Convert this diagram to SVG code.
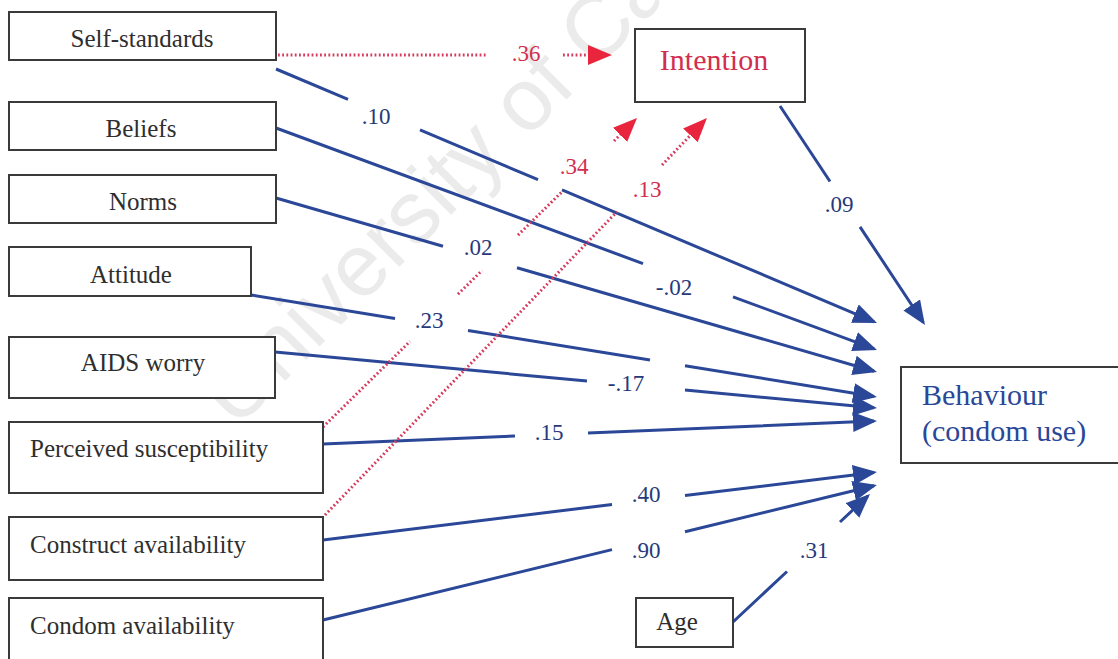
<svg xmlns="http://www.w3.org/2000/svg" width="1118" height="659" viewBox="0 0 1118 659">
  <style>
    .box { fill: #ffffff; stroke: #3a3a3a; stroke-width: 2; }
    .lbl { font-family: "Liberation Serif", "Times New Roman", serif; font-size: 25px; fill: #2e2e2e; }
    .blue { fill: none; stroke: #2b4797; stroke-width: 3; }
    .red { fill: none; stroke: #d63a5c; stroke-width: 3; stroke-dasharray: 1.8 2.4; }
    .num { font-family: "Liberation Serif", "Times New Roman", serif; font-size: 23px; fill: #27397a; text-anchor: middle; }
    .rnum { font-family: "Liberation Serif", "Times New Roman", serif; font-size: 23px; fill: #d22f4f; text-anchor: middle; }
    .wm { font-family: "Liberation Sans", Arial, sans-serif; font-size: 88px; fill: #ebebeb; }
  </style>
  <defs>
    <marker id="ahBlue" markerUnits="userSpaceOnUse" markerWidth="26" markerHeight="22" refX="21" refY="10" orient="auto">
      <path d="M0,0 L24,10 L0,20 z" fill="#2b4797"/>
    </marker>
    <marker id="ahRed" markerUnits="userSpaceOnUse" markerWidth="26" markerHeight="22" refX="21" refY="10" orient="auto">
      <path d="M0,0 L24,10 L0,20 z" fill="#e8253d"/>
    </marker>
  </defs>

  <rect x="0" y="0" width="1118" height="659" fill="#ffffff"/>

  <!-- faint background watermark -->
  <text class="wm" transform="translate(236,430) rotate(-45)">University of Cape Town</text>

  <!-- path connectors (gaps leave room for the coefficients) -->
  <g id="connectors">
    <!-- solid paths to behaviour -->
    <path class="blue" marker-end="url(#ahBlue)" d="M276,69 L348,99.4 M420,129.9 L538,179.7 M562,189.9 L874.2,321.8"/>
    <path class="blue" marker-end="url(#ahBlue)" d="M276,128 L643,263.6 M733,296.8 L874.2,348.9"/>
    <path class="blue" marker-end="url(#ahBlue)" d="M276,198 L443,246.3 M517,267.8 L874.1,371.2"/>
    <path class="blue" marker-end="url(#ahBlue)" d="M251,295 L395,318.5 M468,330.4 L650,360 M685,365.7 L874,396.5"/>
    <path class="blue" marker-end="url(#ahBlue)" d="M275,352 L587,381 M685,390.1 L874,407.7"/>
    <path class="blue" marker-end="url(#ahBlue)" d="M323,444 L515,436 M588,433 L874,421.1"/>
    <path class="blue" marker-end="url(#ahBlue)" d="M323,540 L612,504.5 M685,495.6 L874,472.4"/>
    <path class="blue" marker-end="url(#ahBlue)" d="M323,620 L612,549.6 M685,531.8 L874,485.7"/>
    <path class="blue" marker-end="url(#ahBlue)" d="M733,622 L787,571.5 M840,522 L867.8,496"/>
    <path class="blue" marker-end="url(#ahBlue)" d="M780,106 L830,181.5 M860,226.8 L923.3,322.5"/>
    <!-- dotted paths to intention -->
    <path class="red" marker-end="url(#ahRed)" d="M278,55 L488,55 M563,55 L609,55"/>
    <path class="red" marker-end="url(#ahRed)" d="M323,427 L410,341.4 M458,294.2 L482,270.5 M518,235.1 L562,191.8 M614,141 L634.9,120.1"/>
    <path class="red" marker-end="url(#ahRed)" d="M325,515 L617,211.6 M662,165 L704.9,120.2"/>
  </g>

  <!-- coefficients -->
  <g id="coefficients">
    <text class="rnum" x="526" y="61">.36</text>
    <text class="num" x="376" y="124">.10</text>
    <text class="rnum" x="574" y="174">.34</text>
    <text class="rnum" x="647" y="197">.13</text>
    <text class="num" x="839" y="212">.09</text>
    <text class="num" x="478" y="255">.02</text>
    <text class="num" x="674" y="295">-.02</text>
    <text class="num" x="429" y="328">.23</text>
    <text class="num" x="626" y="391">-.17</text>
    <text class="num" x="549" y="440">.15</text>
    <text class="num" x="646" y="502">.40</text>
    <text class="num" x="646" y="558">.90</text>
    <text class="num" x="814" y="558">.31</text>
  </g>

  <!-- predictor nodes -->
  <g id="self-standards">
    <rect class="box" x="9" y="12" width="267" height="48"/>
    <text class="lbl" x="142" y="47" text-anchor="middle">Self-standards</text>
  </g>
  <g id="beliefs">
    <rect class="box" x="9" y="102" width="267" height="48"/>
    <text class="lbl" x="141" y="137" text-anchor="middle">Beliefs</text>
  </g>
  <g id="norms">
    <rect class="box" x="9" y="175" width="267" height="48"/>
    <text class="lbl" x="143" y="210" text-anchor="middle">Norms</text>
  </g>
  <g id="attitude">
    <rect class="box" x="9" y="247" width="242" height="49"/>
    <text class="lbl" x="131" y="283" text-anchor="middle">Attitude</text>
  </g>
  <g id="aids-worry">
    <rect class="box" x="9" y="337" width="266" height="61"/>
    <text class="lbl" x="143" y="371" text-anchor="middle">AIDS worry</text>
  </g>
  <g id="perceived-susceptibility">
    <rect class="box" x="9" y="422" width="314" height="71"/>
    <text class="lbl" x="30" y="457">Perceived susceptibility</text>
  </g>
  <g id="construct-availability">
    <rect class="box" x="9" y="517" width="314" height="63"/>
    <text class="lbl" x="30" y="553">Construct availability</text>
  </g>
  <g id="condom-availability">
    <rect class="box" x="9" y="598" width="314" height="70"/>
    <text class="lbl" x="30" y="634">Condom availability</text>
  </g>

  <!-- outcome nodes -->
  <g id="intention">
    <rect class="box" x="635" y="29" width="170" height="73"/>
    <text x="714" y="70" text-anchor="middle" font-family="Liberation Serif, Times New Roman, serif" font-size="30" fill="#d22f4f">Intention</text>
  </g>
  <g id="behaviour">
    <rect class="box" x="901" y="367" width="230" height="96"/>
    <text x="922" y="405" font-family="Liberation Serif, Times New Roman, serif" font-size="30" fill="#2b4797">Behaviour</text>
    <text x="922" y="441" font-family="Liberation Serif, Times New Roman, serif" font-size="30" fill="#2b4797">(condom use)</text>
  </g>
  <g id="age">
    <rect class="box" x="636" y="598" width="97" height="49"/>
    <text class="lbl" x="677" y="630" text-anchor="middle" font-size="23">Age</text>
  </g>
</svg>
